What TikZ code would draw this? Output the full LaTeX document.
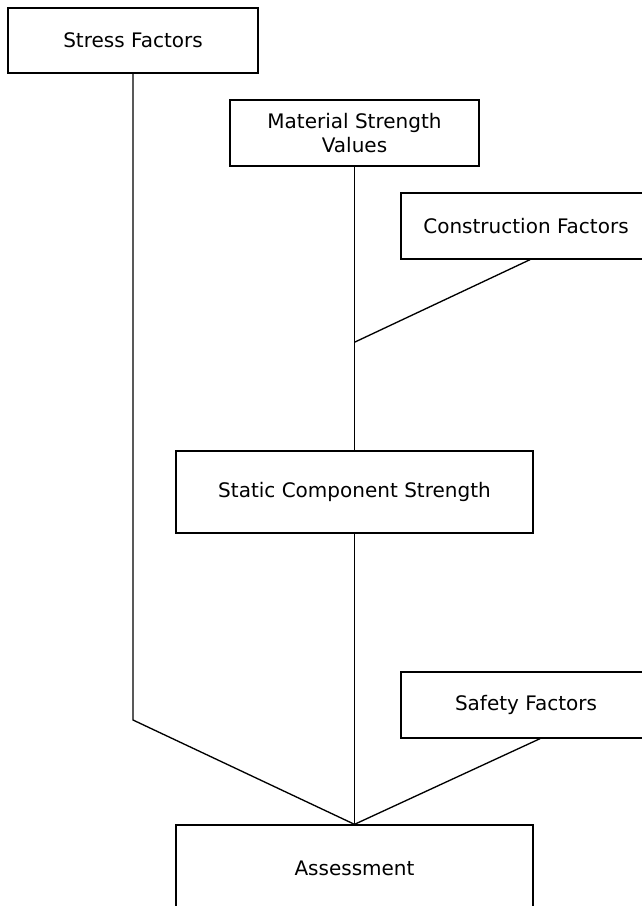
\documentclass[tikz,border=0pt]{standalone}
\usepackage{fontspec}
\setmainfont{DejaVu Sans}
\begin{document}
\begin{tikzpicture}[x=0.75pt,y=-0.75pt,line width=1pt,
  box/.style={draw,fill=white,rectangle,inner sep=0pt,font=\fontsize{15}{18}\selectfont,align=center}]
\useasboundingbox (0,0) rectangle (642,906);
\clip (0,0) rectangle (642,906);
\node[box,minimum width=250*0.75pt,minimum height=65*0.75pt] (stress) at (133,40.5) {Stress Factors};
\node[box,minimum width=249*0.75pt,minimum height=66*0.75pt] (material) at (354.5,133) {Material Strength\\Values};
\node[box,minimum width=250*0.75pt,minimum height=66*0.75pt] (construction) at (526,226) {Construction Factors};
\node[box,minimum width=357*0.75pt,minimum height=82*0.75pt] (static) at (354.5,492) {Static Component Strength};
\node[box,minimum width=250*0.75pt,minimum height=66*0.75pt] (safety) at (526,705) {Safety Factors};
\node[box,minimum width=357*0.75pt,minimum height=86*0.75pt] (assess) at (354.5,868) {Assessment};
\coordinate (join) at (355,342);
\coordinate (bend) at (133,720);

\draw (material.south) -- (static.north);
\draw ([xshift=3pt]construction.south) -- (join);
\draw (static.south) -- (assess.north);
\draw (stress.south) -- (bend) -- (assess.north);
\draw ([xshift=10.5pt]safety.south) -- (assess.north);

\end{tikzpicture}
\end{document}
